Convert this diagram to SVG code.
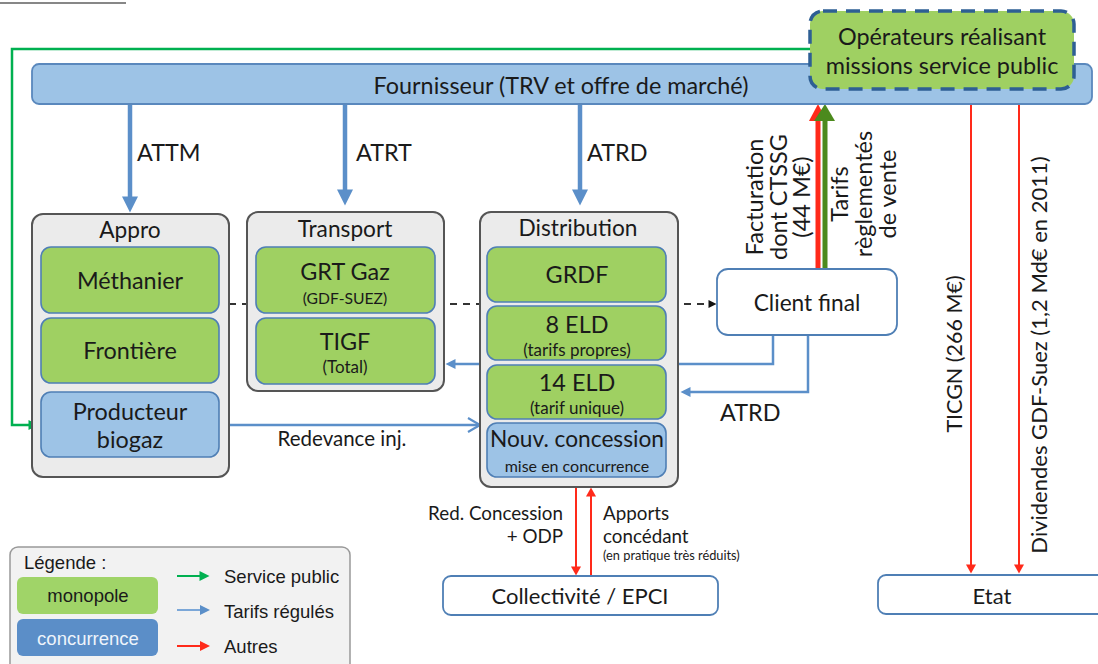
<svg xmlns="http://www.w3.org/2000/svg" width="1098" height="664" viewBox="0 0 1098 664">
<defs>
<style>
text{font-family:Lato,"Open Sans","Liberation Sans",sans-serif;fill:#1a1a1a}
.grp{fill:#ebebeb;stroke:#555;stroke-width:2}
.mono{fill:#9fd062;stroke:#4f7fb5;stroke-width:1.6}
.conc{fill:#9dc3e6;stroke:#4f7fb5;stroke-width:1.6}
.wbox{fill:#fff;stroke:#4f7fb5;stroke-width:1.8}
.t22{font-size:23.4px;text-anchor:middle}
.t21{font-size:22.7px;text-anchor:middle}
.tv{font-size:23.5px;text-anchor:middle}
.tv2{font-size:22px;text-anchor:middle}
.t15{font-size:17px;text-anchor:middle}
.lab{font-size:23.4px}
.cl{font-size:18.8px}
.bthick{stroke:#5b8fc9;stroke-width:4.5;fill:none}
.bthin{stroke:#5b8fc9;stroke-width:2.5;fill:none}
.rthin{stroke:#ff2a1a;stroke-width:2;fill:none}
.leg{font-family:"Liberation Sans",Arial,sans-serif;font-size:18.5px}
</style>
<marker id="hb" viewBox="0 -8 16 16" refX="0.5" refY="0" markerWidth="16" markerHeight="16" markerUnits="userSpaceOnUse" orient="auto" overflow="visible"><path d="M0,-8 L16,0 L0,8 z" fill="#5b8fc9"/></marker>
<marker id="hbs" viewBox="0 -5 10 10" refX="0.5" refY="0" markerWidth="10" markerHeight="10" markerUnits="userSpaceOnUse" orient="auto" overflow="visible"><path d="M0,-5 L10,0 L0,5 z" fill="#5b8fc9"/></marker>
<marker id="hbo" viewBox="0 -8 14 16" refX="13" refY="0" markerWidth="14" markerHeight="16" markerUnits="userSpaceOnUse" orient="auto" overflow="visible"><path d="M1,-7 L13,0 L1,7" fill="none" stroke="#5b8fc9" stroke-width="2.2"/></marker>
<marker id="hr" viewBox="0 -5 9 10" refX="0.5" refY="0" markerWidth="9" markerHeight="10" markerUnits="userSpaceOnUse" orient="auto" overflow="visible"><path d="M0,-5 L9,0 L0,5 z" fill="#ff2a1a"/></marker>
<marker id="hg" viewBox="0 -5 10 10" refX="0.5" refY="0" markerWidth="10" markerHeight="10" markerUnits="userSpaceOnUse" orient="auto" overflow="visible"><path d="M0,-5 L10,0 L0,5 z" fill="#00b050"/></marker>
<marker id="hk" viewBox="0 -4 8 8" refX="0.5" refY="0" markerWidth="8" markerHeight="8" markerUnits="userSpaceOnUse" orient="auto" overflow="visible"><path d="M0,-4 L8,0 L0,4 z" fill="#111"/></marker>
</defs>
<rect width="1098" height="664" fill="#fff"/>
<line x1="0" y1="3" x2="126" y2="3" stroke="#111" stroke-width="1.2"/>

<g id="connectors">
<path d="M810,49 H12 V425 H29" stroke="#00b050" stroke-width="2.5" fill="none" marker-end="url(#hg)"/>
<line x1="130" y1="104" x2="130" y2="197" class="bthick" marker-end="url(#hb)"/>
<line x1="345" y1="104" x2="345" y2="190" class="bthick" marker-end="url(#hb)"/>
<line x1="580" y1="104" x2="580" y2="190" class="bthick" marker-end="url(#hb)"/>
<line x1="229" y1="304" x2="709" y2="304" stroke="#333" stroke-width="1.8" stroke-dasharray="7,6" marker-end="url(#hk)"/>
<path d="M773,335 V364 H455" class="bthin" marker-end="url(#hbs)"/>
<path d="M808,335 V392 H690" class="bthin" marker-end="url(#hbs)"/>
<line x1="219" y1="425" x2="480" y2="425" class="bthin" marker-end="url(#hbo)"/>
<path d="M818,269 V121" stroke="#ff2a1a" stroke-width="5" fill="none"/>
<path d="M809,121 L818,104 L827,121 z" fill="#ff2a1a"/>
<path d="M825,269 V121" stroke="#4c8a1d" stroke-width="5" fill="none"/>
<path d="M814,121 L825,104 L835,121 z" fill="#4c8a1d"/>
<line x1="971" y1="104" x2="971" y2="565" class="rthin" marker-end="url(#hr)"/>
<line x1="1019" y1="104" x2="1019" y2="565" class="rthin" marker-end="url(#hr)"/>
<line x1="576" y1="487" x2="576" y2="567" class="rthin" marker-end="url(#hr)"/>
<line x1="591" y1="576" x2="591" y2="496" class="rthin" marker-end="url(#hr)"/>
</g>

<g id="fournisseur">
<rect x="32" y="64" width="1060" height="40" rx="7" fill="#9dc3e6" stroke="#5a88bd" stroke-width="1.8"/>
<text x="561" y="94" class="t22">Fournisseur (TRV et offre de marché)</text>
</g>

<g id="operateurs">
<rect x="810" y="11" width="264" height="78" rx="13" fill="#9fd062" stroke="#2e5f94" stroke-width="3.5" stroke-dasharray="14,9"/>
<text x="942" y="45" class="t22">Opérateurs réalisant</text>
<text x="942" y="74" class="t22">missions service public</text>
</g>

<g id="labels-top">
<text x="137" y="161" class="lab">ATTM</text>
<text x="356" y="161" class="lab">ATRT</text>
<text x="587" y="161" class="lab">ATRD</text>
<text x="720" y="421" class="lab">ATRD</text>
<text x="342" y="446" style="font-size:20.5px;text-anchor:middle">Redevance inj.</text>
</g>

<g id="appro">
<rect x="32" y="214" width="197" height="263" rx="11" class="grp"/>
<text x="130" y="238" class="t21">Appro</text>
<rect x="41" y="247" width="178" height="66" rx="10" class="mono"/>
<text x="130" y="289" class="t22">Méthanier</text>
<rect x="41" y="318" width="178" height="65" rx="10" class="mono"/>
<text x="130" y="359" class="t22">Frontière</text>
<rect x="41" y="392" width="178" height="65" rx="10" class="conc"/>
<text x="130" y="420" class="t22">Producteur</text>
<text x="130" y="448" class="t22">biogaz</text>
</g>

<g id="transport">
<rect x="247" y="212" width="197" height="179" rx="11" class="grp"/>
<text x="345" y="237" class="t21">Transport</text>
<rect x="256" y="247" width="179" height="66" rx="10" class="mono"/>
<text x="345" y="280" class="t22">GRT Gaz</text>
<text x="345" y="304" class="t15" style="font-size:15.7px">(GDF-SUEZ)</text>
<rect x="256" y="318" width="179" height="66" rx="10" class="mono"/>
<text x="345" y="350" class="t22">TIGF</text>
<text x="345" y="373" class="t15">(Total)</text>
</g>

<g id="distribution">
<rect x="480" y="212" width="198" height="275" rx="11" class="grp"/>
<text x="578" y="236" class="t21">Distribution</text>
<rect x="487" y="247" width="179" height="55" rx="10" class="mono"/>
<text x="577" y="283" class="t22">GRDF</text>
<rect x="487" y="306" width="179" height="54" rx="10" class="mono"/>
<text x="577" y="333" class="t22">8 ELD</text>
<text x="577" y="356" class="t15">(tarifs propres)</text>
<rect x="487" y="365" width="179" height="54" rx="10" class="mono"/>
<text x="577" y="391" class="t22">14 ELD</text>
<text x="577" y="414" class="t15">(tarif unique)</text>
<rect x="487" y="423" width="179" height="54" rx="10" class="conc"/>
<text x="577" y="447" class="t22" style="font-size:22.7px">Nouv. concession</text>
<text x="577" y="472" class="t15" style="font-size:16px">mise en concurrence</text>
</g>

<g id="client">
<rect x="717" y="269" width="180" height="66" rx="11" class="wbox"/>
<text x="807" y="311" class="t21">Client final</text>
</g>

<g id="labels-vertical">
<text transform="translate(763,197) rotate(-90)" class="tv">Facturation</text>
<text transform="translate(787,197) rotate(-90)" class="tv">dont CTSSG</text>
<text transform="translate(810,197) rotate(-90)" class="tv">(44 M€)</text>
<text transform="translate(848,194) rotate(-90)" class="tv">Tarifs</text>
<text transform="translate(872,194) rotate(-90)" class="tv">règlementés</text>
<text transform="translate(896,194) rotate(-90)" class="tv">de vente</text>
<text transform="translate(962,354) rotate(-90)" class="tv2" style="font-size:21.5px">TICGN (266 M€)</text>
<text transform="translate(1047,355) rotate(-90)" class="tv2">Dividendes GDF-Suez (1,2 Md€ en 2011)</text>
</g>

<g id="labels-collectivite">
<text x="563" y="520" class="cl" text-anchor="end">Red. Concession</text>
<text x="563" y="543" class="cl" text-anchor="end">+ ODP</text>
<text x="603" y="520" class="cl">Apports</text>
<text x="603" y="543" class="cl">concédant</text>
<text x="603" y="560" style="font-size:12.8px">(en pratique très réduits)</text>
</g>

<g id="collectivite">
<rect x="443" y="576" width="275" height="39" rx="8" class="wbox"/>
<text x="580" y="604" style="font-size:22px;text-anchor:middle">Collectivité / EPCI</text>
</g>

<g id="etat">
<rect x="878" y="575" width="240" height="39" rx="8" class="wbox"/>
<text x="992" y="604" style="font-size:22px;text-anchor:middle">Etat</text>
</g>

<g id="legende">
<rect x="10" y="547" width="340" height="130" rx="8" fill="#f2f2f2" stroke="#999" stroke-width="1.5"/>
<text x="24" y="569" class="leg">Légende :</text>
<rect x="17" y="577" width="141" height="37" rx="6" fill="#a0d468"/>
<text x="88" y="602" class="leg" text-anchor="middle">monopole</text>
<rect x="17" y="619" width="141" height="37" rx="6" fill="#5b8ec8"/>
<text x="88" y="645" class="leg" text-anchor="middle" style="fill:#eef4fb">concurrence</text>
<line x1="177" y1="576" x2="200" y2="576" stroke="#00b050" stroke-width="2" marker-end="url(#hg)"/>
<line x1="177" y1="610" x2="200" y2="610" stroke="#7ba7d8" stroke-width="2"/>
<path d="M200,605 L210,610 L200,615 z" fill="#5b8fc9"/>
<line x1="177" y1="646" x2="200" y2="646" stroke="#ff2a1a" stroke-width="2"/>
<path d="M200,641 L210,646 L200,651 z" fill="#ff2a1a"/>
<text x="224" y="583" class="leg">Service public</text>
<text x="224" y="618" class="leg">Tarifs régulés</text>
<text x="224" y="653" class="leg">Autres</text>
</g>
</svg>
